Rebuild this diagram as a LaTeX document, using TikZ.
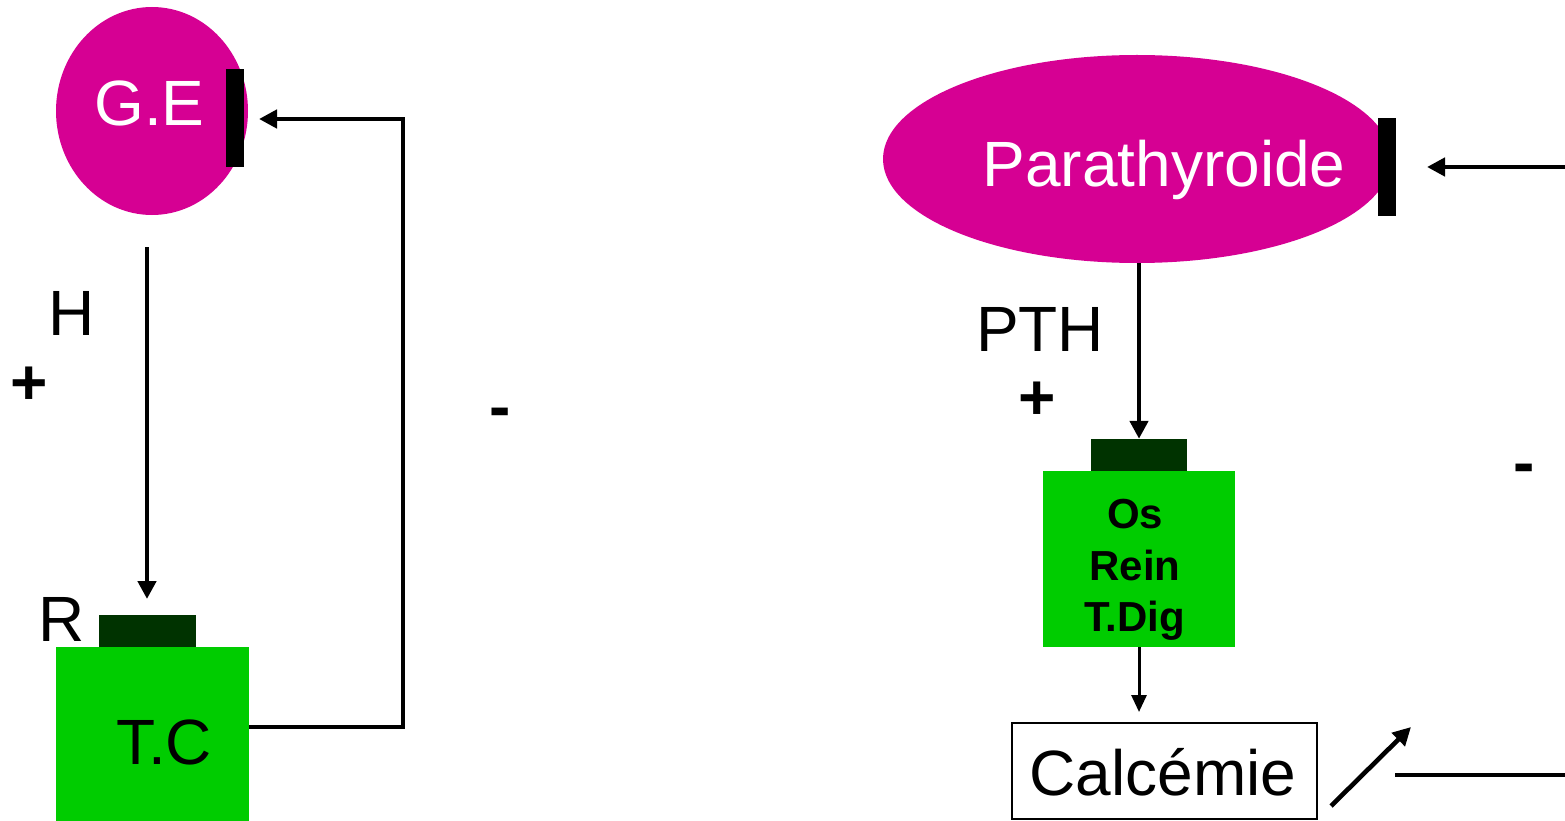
\documentclass[tikz,border=0pt]{standalone}
\usepackage{fontspec}
\setmainfont{Liberation Sans}
\usetikzlibrary{arrows.meta,shapes.geometric}
\definecolor{gland}{RGB}{214,0,147}
\definecolor{tissue}{RGB}{0,204,0}
\definecolor{receptor}{RGB}{0,51,0}

\begin{document}
\begin{tikzpicture}[x=1pt,y=-1pt,
  glandshape/.style={ellipse,fill=gland,draw=none,inner sep=0pt},
  box/.style={rectangle,draw=none,inner sep=0pt},
  tissuebox/.style={box,fill=tissue},
  receptorbox/.style={box,fill=receptor},
  blockbar/.style={box,fill=black,minimum width=18pt,minimum height=98pt},
  bigtext/.style={inner sep=0pt,anchor=base,font=\fontsize{64}{64}\selectfont},
  whitetext/.style={bigtext,text=white},
  signtext/.style={inner sep=0pt,font=\fontsize{64}{64}\selectfont\bfseries},
  organtext/.style={inner sep=0pt,anchor=base,font=\fontsize{42}{42}\selectfont\bfseries},
  mainline/.style={line width=4.6pt},
  mainarrow/.style={mainline,-{Triangle[length=18pt,width=18pt]}},
  thinarrow/.style={line width=3pt,-{Triangle[length=17pt,width=15pt]}}
]
\useasboundingbox (0,0) rectangle (1565,821);

% ---- left loop: gland, hormone, target cell ----
\node[glandshape,minimum width=192pt,minimum height=208pt] (ge) at (152,111) {};
\node[whitetext] (getext) at (149.5,126) {G.E};
\node[blockbar] (gebar) at (235,118.5) {};

\node[receptorbox,minimum width=97pt,minimum height=32pt] (rec) at (147.5,631) {};
\node[tissuebox,minimum width=193pt,minimum height=175pt] (tc) at (152.5,734.5) {};
\node[bigtext] (tctext) at (164,764) {T.C};

\node[bigtext] (h) at (72,335) {H};
\node[signtext] (plusl) at (29,386) {+};
\node[bigtext] (r) at (62,641) {R};
\node[signtext] (minusl) at (500,418) {-};

\coordinate (hstart) at (147,247);
\coordinate (htip) at (147,599);
\draw[mainarrow] (hstart) -- (htip);

\coordinate (loopb) at (403,727);
\coordinate (loopt) at (403,119);
\coordinate (gein) at (259,119);
\draw[mainarrow,line join=miter] (tc.east |- loopb) -- (loopb) -- (loopt) -- (gein);

% ---- right loop: parathyroid, PTH, targets, calcaemia ----
\node[glandshape,minimum width=508pt,minimum height=208pt] (pt) at (1137,159) {};
\node[whitetext] (pttext) at (1164,186) {Parathyroide};
\node[blockbar] (ptbar) at (1387,167) {};

\coordinate (ptfeed) at (1565,167);
\coordinate (ptin) at (1427,167);
\draw[mainarrow] (ptfeed) -- (ptin);

\node[bigtext] (pth) at (1040,351) {PTH};
\node[signtext] (plusr) at (1037,401) {+};
\node[signtext] (minusr) at (1524,474) {-};

\node[receptorbox,minimum width=96pt,minimum height=32pt] (rec2) at (1139,455) {};
\node[tissuebox,minimum width=192pt,minimum height=176pt] (org) at (1139,559) {};
\node[organtext] (os) at (1135,528) {Os};
\node[organtext] (rein) at (1135,580) {Rein};
\node[organtext] (tdig) at (1135,631) {T.Dig};

\draw[mainarrow] (rec2.north |- pt.south) -- (rec2.north);

\node[box,draw=black,line width=2pt,minimum width=305pt,minimum height=96pt] (ca) at (1164.5,771) {};
\node[bigtext] (catext) at (1163,795) {Calcémie};

\coordinate (catip) at (1139,712);
\draw[thinarrow] (org.south) -- (catip);

\coordinate (risefrom) at (1331,806);
\coordinate (riseto) at (1411,727);
\draw[mainarrow] (risefrom) -- (riseto);

\coordinate (feedfrom) at (1395,775);
\coordinate (feedto) at (1565,775);
\draw[mainline] (feedfrom) -- (feedto);
\end{tikzpicture}
\end{document}
